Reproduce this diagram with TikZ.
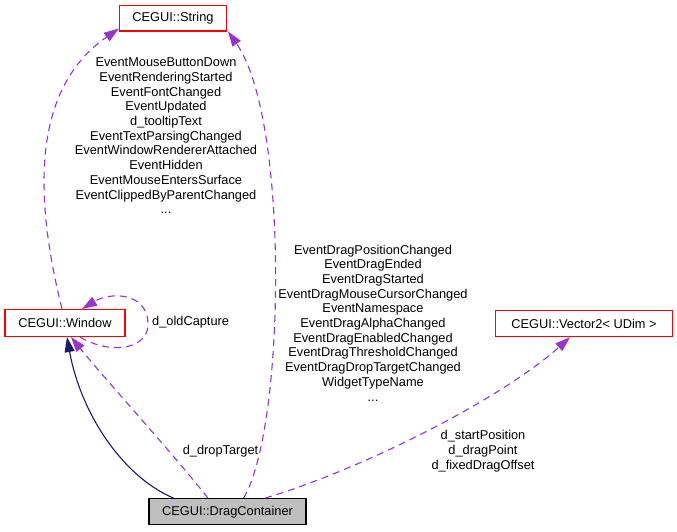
\documentclass[tikz,border=0pt]{standalone}
\usepackage{fontspec}
\setmainfont{Liberation Sans}
\usetikzlibrary{arrows.meta}
\definecolor{edgepurple}{HTML}{9A32CD}
\definecolor{edgenavy}{HTML}{191970}
\definecolor{boxred}{HTML}{FF0000}
\definecolor{boxgray}{HTML}{BFBFBF}
\begin{document}
\begin{tikzpicture}[x=1pt,y=-1pt,
  cls/.style={draw=boxred,line width=1.1pt,fill=white,inner sep=0pt,font=\fontsize{12.8}{14.7}\selectfont},
  cur/.style={draw=black,line width=1.1pt,fill=boxgray,inner sep=0pt,font=\fontsize{12.8}{14.7}\selectfont},
  lbl/.style={align=center,inner sep=0pt,font=\fontsize{12.8}{14.7}\selectfont},
  uses/.style={draw=edgepurple,line width=1.1pt,dash pattern=on 7pt off 5pt,-{Triangle[length=15pt,width=10pt]}},
  inh/.style={draw=edgenavy,line width=1.1pt,-{Triangle[length=15pt,width=10pt]}}]
\useasboundingbox (0,0) rectangle (677,531);
\fill[white] (0,0) rectangle (677,531);
% nodes
\node[cls,minimum width=107pt,minimum height=25.5pt] (str) at (173,18.2) {CEGUI::String};
\node[cls,minimum width=120pt,minimum height=27pt] (win) at (65,323) {CEGUI::Window};
\node[cls,minimum width=176.6pt,minimum height=26pt] (vec) at (584,323.7) {CEGUI::Vector2< UDim >};
\node[cur,minimum width=157pt,minimum height=26pt] (dc) at (227.5,511.7) {CEGUI::DragContainer};
% labels
\node[lbl] (l1) at (166,135.8) {EventMouseButtonDown\\EventRenderingStarted\\EventFontChanged\\EventUpdated\\d\_tooltipText\\EventTextParsingChanged\\EventWindowRendererAttached\\EventHidden\\EventMouseEntersSurface\\EventClippedByParentChanged\\...};
\node[lbl] (l2) at (373,322.9) {EventDragPositionChanged\\EventDragEnded\\EventDragStarted\\EventDragMouseCursorChanged\\EventNamespace\\EventDragAlphaChanged\\EventDragEnabledChanged\\EventDragThresholdChanged\\EventDragDropTargetChanged\\WidgetTypeName\\...};
\node[lbl] (l3) at (483,451) {d\_startPosition\\d\_dragPoint\\d\_fixedDragOffset};
\node[lbl] (l4) at (220.5,450.7) {d\_dropTarget};
\node[lbl,anchor=west] (l5) at (152,322.3) {d\_oldCapture};
% edges
\draw[uses] ([xshift=-3pt]win.north) .. controls (35,200) and (30,90) .. ([yshift=3pt]str.south west);
\draw[uses] ([xshift=16pt]dc.north) .. controls (285,430) and (290,120) .. ([xshift=1pt]str.south east);
\draw[uses] ([xshift=-19.5pt]dc.north) .. controls (170,450) and (110,385) .. ([xshift=6pt]win.south);
\draw[inh] ([xshift=-54pt]dc.north) .. controls (120,475) and (80,410) .. ([xshift=2pt]win.south);
\draw[uses] ([xshift=15pt]win.south) .. controls (110,355) and (150,350) .. (148,322) .. controls (146,292) and (110,292) .. ([xshift=17pt]win.north);
\draw[uses] ([xshift=37.5pt]dc.north) .. controls (360,470) and (500,400) .. ([xshift=-14pt]vec.south);
\end{tikzpicture}
\end{document}
